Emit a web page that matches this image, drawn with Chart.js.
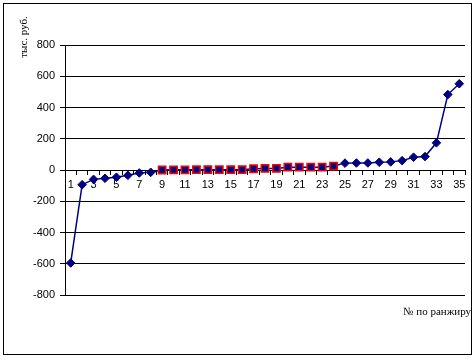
<!DOCTYPE html>
<html>
<head>
<meta charset="utf-8">
<script src="https://cdn.jsdelivr.net/npm/chart.js@4/dist/chart.umd.min.js"></script>
<style>
  html, body { margin: 0; padding: 0; background: #fff; }
  #wrap { width: 475px; height: 360px; position: relative; }
</style>
</head>
<body>
<div id="wrap"><canvas id="myChart" width="475" height="360"></canvas></div>
<script>
'use strict';
// ranking positions 1..35
var ranks = ['1', '2', '3', '4', '5', '6', '7', '8', '9', '10', '11', '12', '13', '14', '15', '16', '17', '18',
  '19', '20', '21', '22', '23', '24', '25', '26', '27', '28', '29', '30', '31', '32', '33', '34', '35'];
// values, thousand rubles
var values = [-595, -94, -60, -53, -46, -34, -19, -15, 0, 1, 1, 2, 2, 2, 2, 2, 8, 10,
  10, 18, 18, 18, 18, 25, 44, 45, 45, 50, 52, 60, 82, 86, 174, 483, 552];
// which points are drawn as red-edged squares (positions 9..24)
var highlighted = [9, 10, 11, 12, 13, 14, 15, 16, 17, 18, 19, 20, 21, 22, 23, 24];
var yTicks = [-800, -600, -400, -200, 0, 200, 400, 600, 800];

var navy = '#000080';
var isSquare = ranks.map(function(r) { return highlighted.indexOf(Number(r)) !== -1; });

// frame and the two axis titles
var extras = {
  id: 'extras',
  afterDraw: function(chart) {
    var ctx = chart.ctx;
    ctx.save();
    ctx.strokeStyle = '#000';
    ctx.lineWidth = 1;
    ctx.strokeRect(3.5, 3.5, 468, 351);
    ctx.fillStyle = '#000';
    ctx.font = '11px "Liberation Serif", "Times New Roman", serif';
    ctx.textAlign = 'right';
    ctx.textBaseline = 'middle';
    ctx.fillText('№ по ранжиру', 471, 312);
    ctx.translate(24, 37);
    ctx.rotate(-Math.PI / 2);
    ctx.textAlign = 'center';
    ctx.fillText('тыс. руб.', 0, 0);
    ctx.restore();
  }
};

var ctx = document.getElementById('myChart').getContext('2d');
new Chart(ctx, {
  type: 'line',
  data: {
    labels: ranks,
    datasets: [{
      data: values,
      borderColor: navy,
      borderWidth: 1.5,
      pointStyle: isSquare.map(function(s) { return s ? 'rect' : 'rectRot'; }),
      pointRadius: isSquare.map(function(s) { return s ? 5.2 : 4.3; }),
      pointBackgroundColor: navy,
      pointBorderColor: isSquare.map(function(s) { return s ? '#ff0000' : navy; }),
      pointBorderWidth: isSquare.map(function(s) { return s ? 1.5 : 1; }),
      tension: 0,
      clip: false
    }]
  },
  options: {
    responsive: false,
    animation: false,
    layout: { padding: { top: 45, right: 10, bottom: 65, left: 0 } },
    plugins: { legend: { display: false }, tooltip: { enabled: false } },
    scales: {
      x: {
        position: { y: 0 },
        offset: true,
        grid: { offset: true, drawOnChartArea: false, drawTicks: true, tickLength: 4, color: '#000' },
        border: { display: true, color: '#000', width: 1 },
        ticks: {
          autoSkip: false,
          maxRotation: 0,
          padding: 4,
          color: '#000',
          font: { family: '"Liberation Sans", Arial, sans-serif', size: 11 },
          callback: function(v, i) { return i % 2 === 0 ? ranks[i] : ''; }
        }
      },
      y: {
        min: -800,
        max: 800,
        afterFit: function(scale) { scale.width = 65; },
        afterBuildTicks: function(scale) { scale.ticks = yTicks.map(function(v) { return { value: v }; }); },
        grid: { color: '#000', lineWidth: 1, drawTicks: true, tickLength: 5 },
        border: { display: true, color: '#000', width: 1 },
        ticks: {
          padding: 5,
          color: '#000',
          font: { family: '"Liberation Sans", Arial, sans-serif', size: 11 }
        }
      }
    }
  },
  plugins: [extras]
});
</script>
</body>
</html>
